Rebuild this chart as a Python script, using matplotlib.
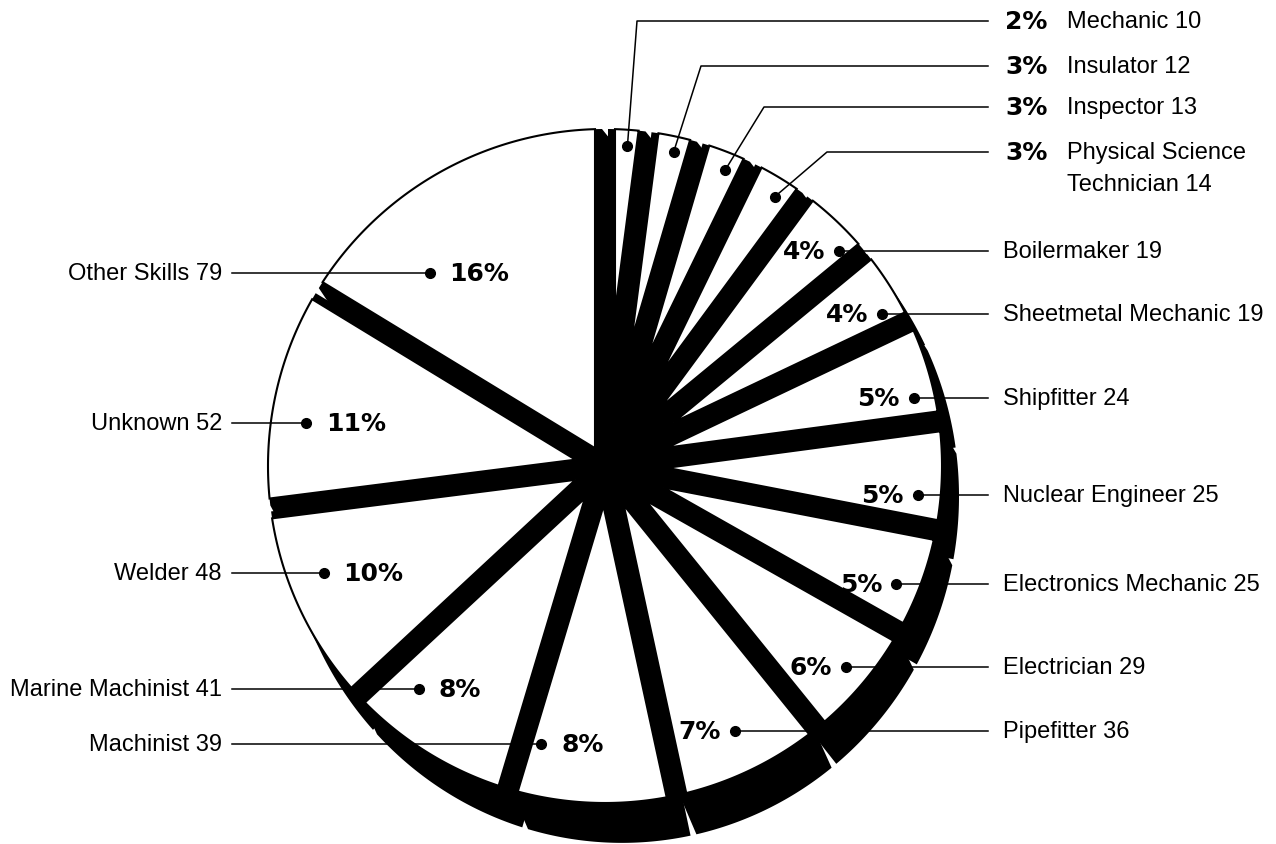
import numpy as np
import matplotlib.pyplot as plt

# data, clockwise from 12 o'clock
skills = ["Mechanic", "Insulator", "Inspector", "Physical Science\nTechnician",
          "Boilermaker", "Sheetmetal Mechanic", "Shipfitter", "Nuclear Engineer",
          "Electronics Mechanic", "Electrician", "Pipefitter", "Machinist",
          "Marine Machinist", "Welder", "Unknown", "Other Skills"]
counts = [10, 12, 13, 14, 19, 19, 24, 25, 25, 29, 36, 39, 41, 48, 52, 79]
pct = [2, 3, 3, 3, 4, 4, 5, 5, 5, 6, 7, 8, 8, 10, 11, 16]

# layout (pixels, y down)
W, H = 1276, 845
cx, cy, R = 605, 467, 337
gap = 10          # half gap between white slices
sh_gap = 3        # half gap between the black sides
# where the dot sits inside each slice: fraction of the slice (counter-clockwise
# from its clockwise edge) and radius
dot_frac = [0.46, 0.45, 0.4, 0.4, 0.22, 0.24, 0.27, 0.30, 0.40, 0.52, 0.52,
            0.13, 0.24, 0.38, 0.60, 0.72]
dot_r = [321, 321, 320, 318, 318, 316, 316, 314, 314, 314, 295, 285, 291, 301, 302, 261]
top_y = [22, 67, 108, 153]
elbow_x = [637, 701, 764, 827]
right_end, right_txt, pct_col, name_col = 988, 1003, 1005, 1067
left_end, left_txt = 232, 222

fr = np.array(counts) / sum(counts)
ends = 90 - 360 * np.cumsum(fr)
starts = ends + 360 * fr


def slice_xy(a1, a2, h):
    half = np.radians(a1 - a2) / 2
    mid = np.radians(a1 + a2) / 2
    d = h / np.sin(half)
    da = np.degrees(np.arcsin(h / R))
    th = np.radians(np.linspace(a1 - da, a2 + da, 80))
    xs = np.r_[d * np.cos(mid), R * np.cos(th)]
    ys = np.r_[d * np.sin(mid), R * np.sin(th)]
    return np.c_[cx + xs, cy - ys]


def hull(p):
    p = sorted(map(tuple, p))
    def half_hull(pts):
        out = []
        for q in pts:
            while len(out) >= 2 and ((out[-1][0] - out[-2][0]) * (q[1] - out[-2][1])
                                     - (out[-1][1] - out[-2][1]) * (q[0] - out[-2][0])) <= 0:
                out.pop()
            out.append(q)
        return out
    lo = half_hull(p)
    up = half_hull(p[::-1])
    return np.array(lo[:-1] + up[:-1])


def side(p):
    # thickness of the slices: more of it shows toward the bottom
    q = p.copy()
    q[:, 0] += 17
    q[:, 1] += 21 + 0.028 * (p[:, 1] - 130)
    return hull(np.r_[p, q])


fig = plt.figure(figsize=(W / 100, H / 100), dpi=100)
ax = fig.add_axes([0, 0, 1, 1])
ax.set_xlim(0, W)
ax.set_ylim(H, 0)
ax.axis('off')

ax.add_patch(plt.Circle((cx, cy), 165, color='black', zorder=1))
for a1, a2 in zip(starts, ends):
    ax.fill(*side(slice_xy(a1, a2, sh_gap)).T, color='black', lw=0, zorder=1)
for a1, a2 in zip(starts, ends):
    ax.fill(*slice_xy(a1, a2, gap).T, facecolor='white', edgecolor='black',
            lw=1.5, joinstyle='miter', zorder=2)

name_font = dict(family='Liberation Sans', fontsize=17)
pct_font = dict(family='DejaVu Sans', fontsize=18, fontweight='bold')
lk = dict(color='black', lw=1.1, zorder=3)

for i, (s, c, p) in enumerate(zip(skills, counts, pct)):
    ang = np.radians(ends[i] + dot_frac[i] * (starts[i] - ends[i]))
    dx, dy = cx + dot_r[i] * np.cos(ang), cy - dot_r[i] * np.sin(ang)
    lines = s.split("\n")
    lines[-1] = f"{lines[-1]} {c}"
    if i < 4:
        y = top_y[i]
        ax.plot([dx, elbow_x[i], right_end], [dy, y, y], **lk)
        ax.text(pct_col, y, f"{p}%", ha='left', va='center', **pct_font)
        for k, ln in enumerate(lines):
            ax.text(name_col, y + 32 * k, ln, ha='left', va='center', **name_font)
    elif dx > cx:
        ax.plot([dx, right_end], [dy, dy], **lk)
        ax.text(dx - 14, dy, f"{p}%", ha='right', va='center', zorder=4, **pct_font)
        ax.text(right_txt, dy, lines[0], ha='left', va='center', **name_font)
    else:
        ax.plot([left_end, dx], [dy, dy], **lk)
        ax.text(dx + 20, dy, f"{p}%", ha='left', va='center', zorder=4, **pct_font)
        ax.text(left_txt, dy, lines[0], ha='right', va='center', **name_font)
    ax.plot(dx, dy, 'o', color='black', ms=7, zorder=4)

plt.savefig('out.png', dpi=100)
